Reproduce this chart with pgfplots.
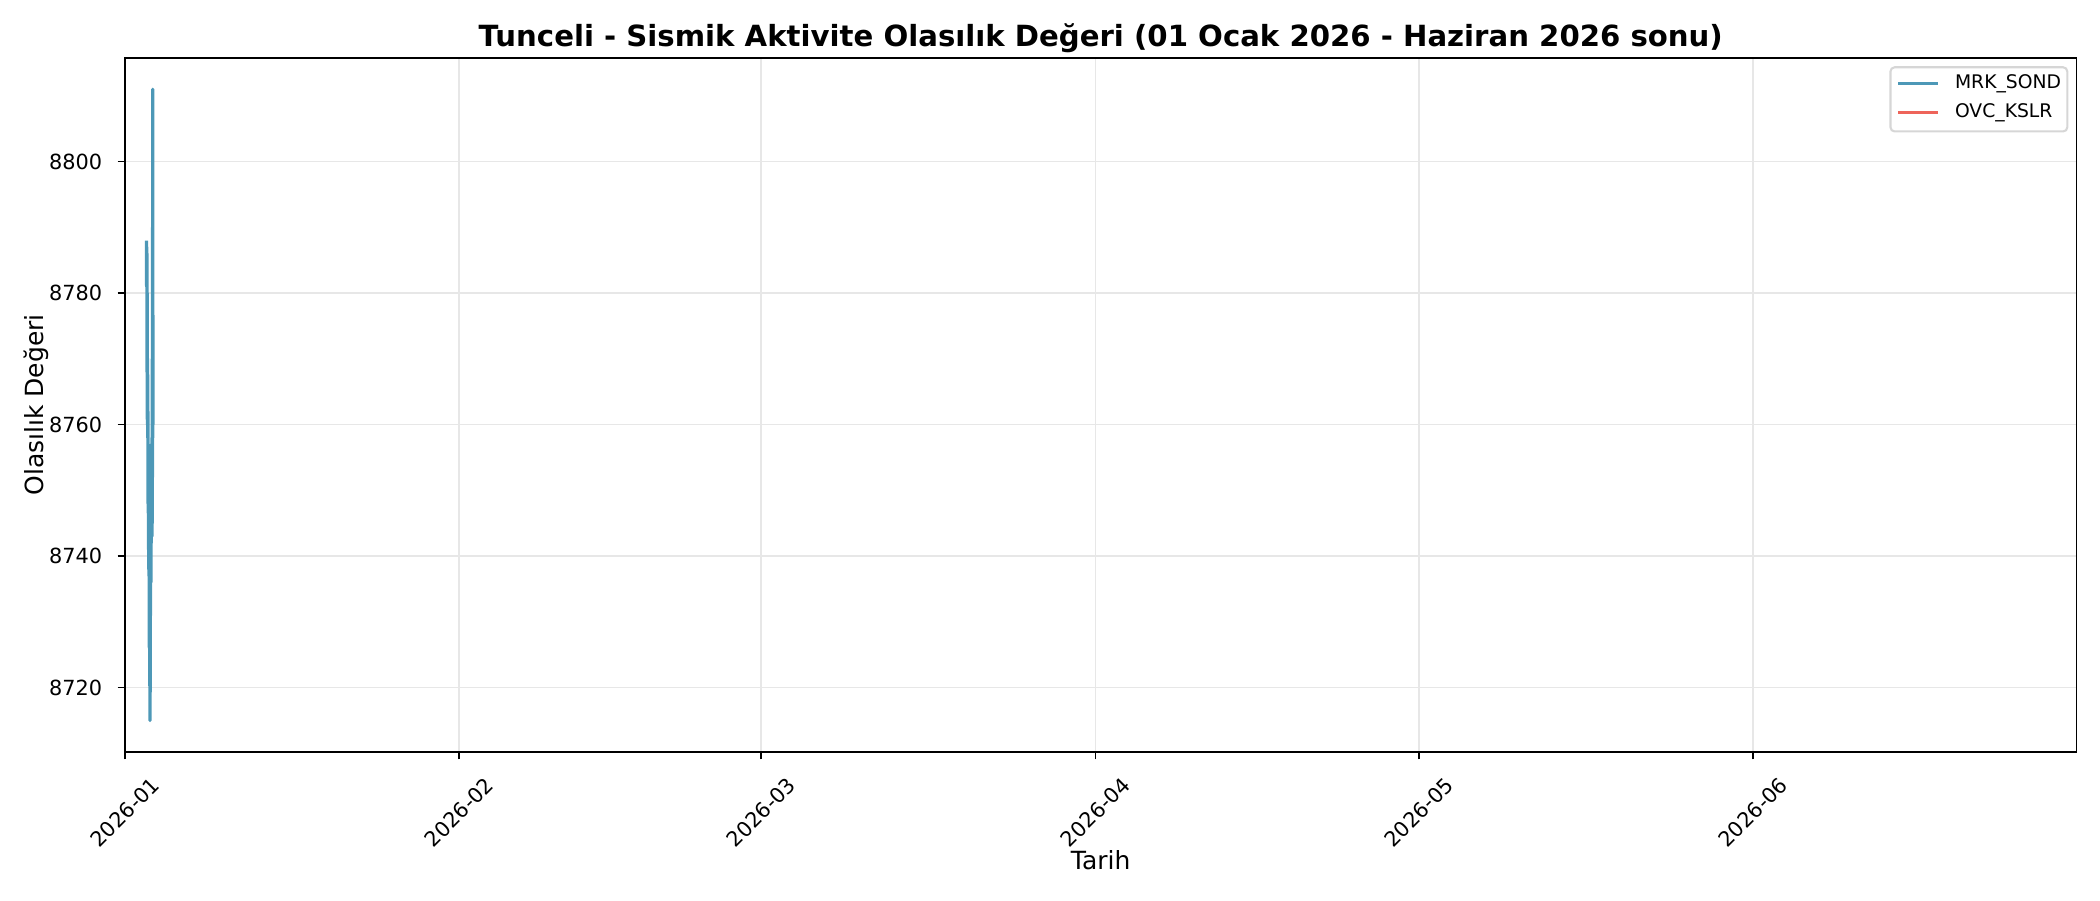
\documentclass[border=0pt]{standalone}
\usepackage{fontspec}
\setmainfont{DejaVu Sans}
\usepackage{pgfplots}
\pgfplotsset{compat=1.18}
\definecolor{sondblue}{RGB}{77,152,183}
\definecolor{kslrred}{RGB}{238,100,90}
\definecolor{gridgray}{RGB}{231,231,231}
\definecolor{legframe}{RGB}{214,214,214}
\begin{document}
\begin{tikzpicture}
\useasboundingbox (-60bp,-71bp) rectangle (948bp,361bp);
\begin{axis}[
  at={(0,0)}, anchor=south west,
  scale only axis,
  width=936.7bp, height=333.3bp,
  xmin=0, xmax=181,
  ymin=8710.2, ymax=8815.8,
  xtick={0,31,59,90,120,151},
  xticklabels={2026-01,2026-02,2026-03,2026-04,2026-05,2026-06},
  ytick={8720,8740,8760,8780,8800},
  tick pos=left,
  /pgf/number format/assume math mode=true,
  /pgf/number format/set thousands separator={},
  tick align=outside,
  major tick length=3.5bp,
  tick style={line width=0.8bp, black},
  axis line style={line width=0.8bp, black},
  xmajorgrids, ymajorgrids,
  grid style={line width=0.8bp, gridgray},
  ticklabel style={font=\fontsize{10bp}{12bp}\selectfont},
  xticklabel style={anchor=center, inner sep=0pt, yshift=-25.4bp, rotate=45},
  yticklabel style={anchor=east, inner sep=0pt, xshift=-7.3bp},
  title={Tunceli - Sismik Aktivite Olasılık Değeri (01 Ocak 2026 - Haziran 2026 sonu)},
  every axis title/.style={font=\fontsize{14bp}{16bp}\selectfont\bfseries, at={(axis description cs:0.5,1)}, anchor=base, yshift=5.6bp, inner sep=0pt},
  xlabel={Tarih},
  xlabel style={font=\fontsize{12bp}{14bp}\selectfont, at={(axis description cs:0.5,0)}, anchor=base, yshift=-56.3bp, inner sep=0pt},
  ylabel={Olasılık Değeri},
  ylabel style={font=\fontsize{12bp}{14bp}\selectfont, at={(axis description cs:-0.0456,0.5)}, anchor=center, inner sep=0pt},
  legend style={at={(axis description cs:1,1)}, anchor=north east, xshift=-4.4bp, yshift=-4.6bp,
    draw=legframe, line width=1bp, rounded corners=2bp, fill=white, outer sep=0pt,
    font=\fontsize{9bp}{11bp}\selectfont, inner xsep=3bp, inner ysep=1.6bp, row sep=0pt,
    nodes={inner sep=0pt, text height=8.8bp, text depth=5bp, anchor=base west},
    /tikz/every odd column/.append style={column sep=7.3bp}},
  legend cell align=left,
  legend image code/.code={\draw[#1, line width=1.5bp] (0bp,2.55bp) -- (19.2bp,2.55bp);},
]
\addplot[sondblue, line width=1.6bp, line join=round, no markers] coordinates {
(2.000,8788) (2.010,8781) (2.020,8787) (2.030,8782) (2.040,8786) (2.050,8768)
(2.060,8780) (2.070,8772) (2.080,8760) (2.090,8770) (2.100,8765) (2.115,8758)
(2.130,8762) (2.145,8748) (2.160,8755) (2.180,8741) (2.200,8750) (2.220,8737)
(2.240,8745) (2.265,8726) (2.290,8733) (2.320,8715) (2.340,8728) (2.360,8734)
(2.380,8744) (2.400,8736) (2.420,8753) (2.440,8742) (2.460,8757) (2.490,8743)
(2.510,8758) (2.525,8745) (2.540,8770) (2.550,8752) (2.560,8790) (2.568,8758)
(2.575,8811) (2.585,8760)
};
\addlegendentry{MRK\_SOND}
\addlegendimage{kslrred, line width=1.5bp}
\addlegendentry{OVC\_KSLR}
\end{axis}
\end{tikzpicture}
\end{document}
